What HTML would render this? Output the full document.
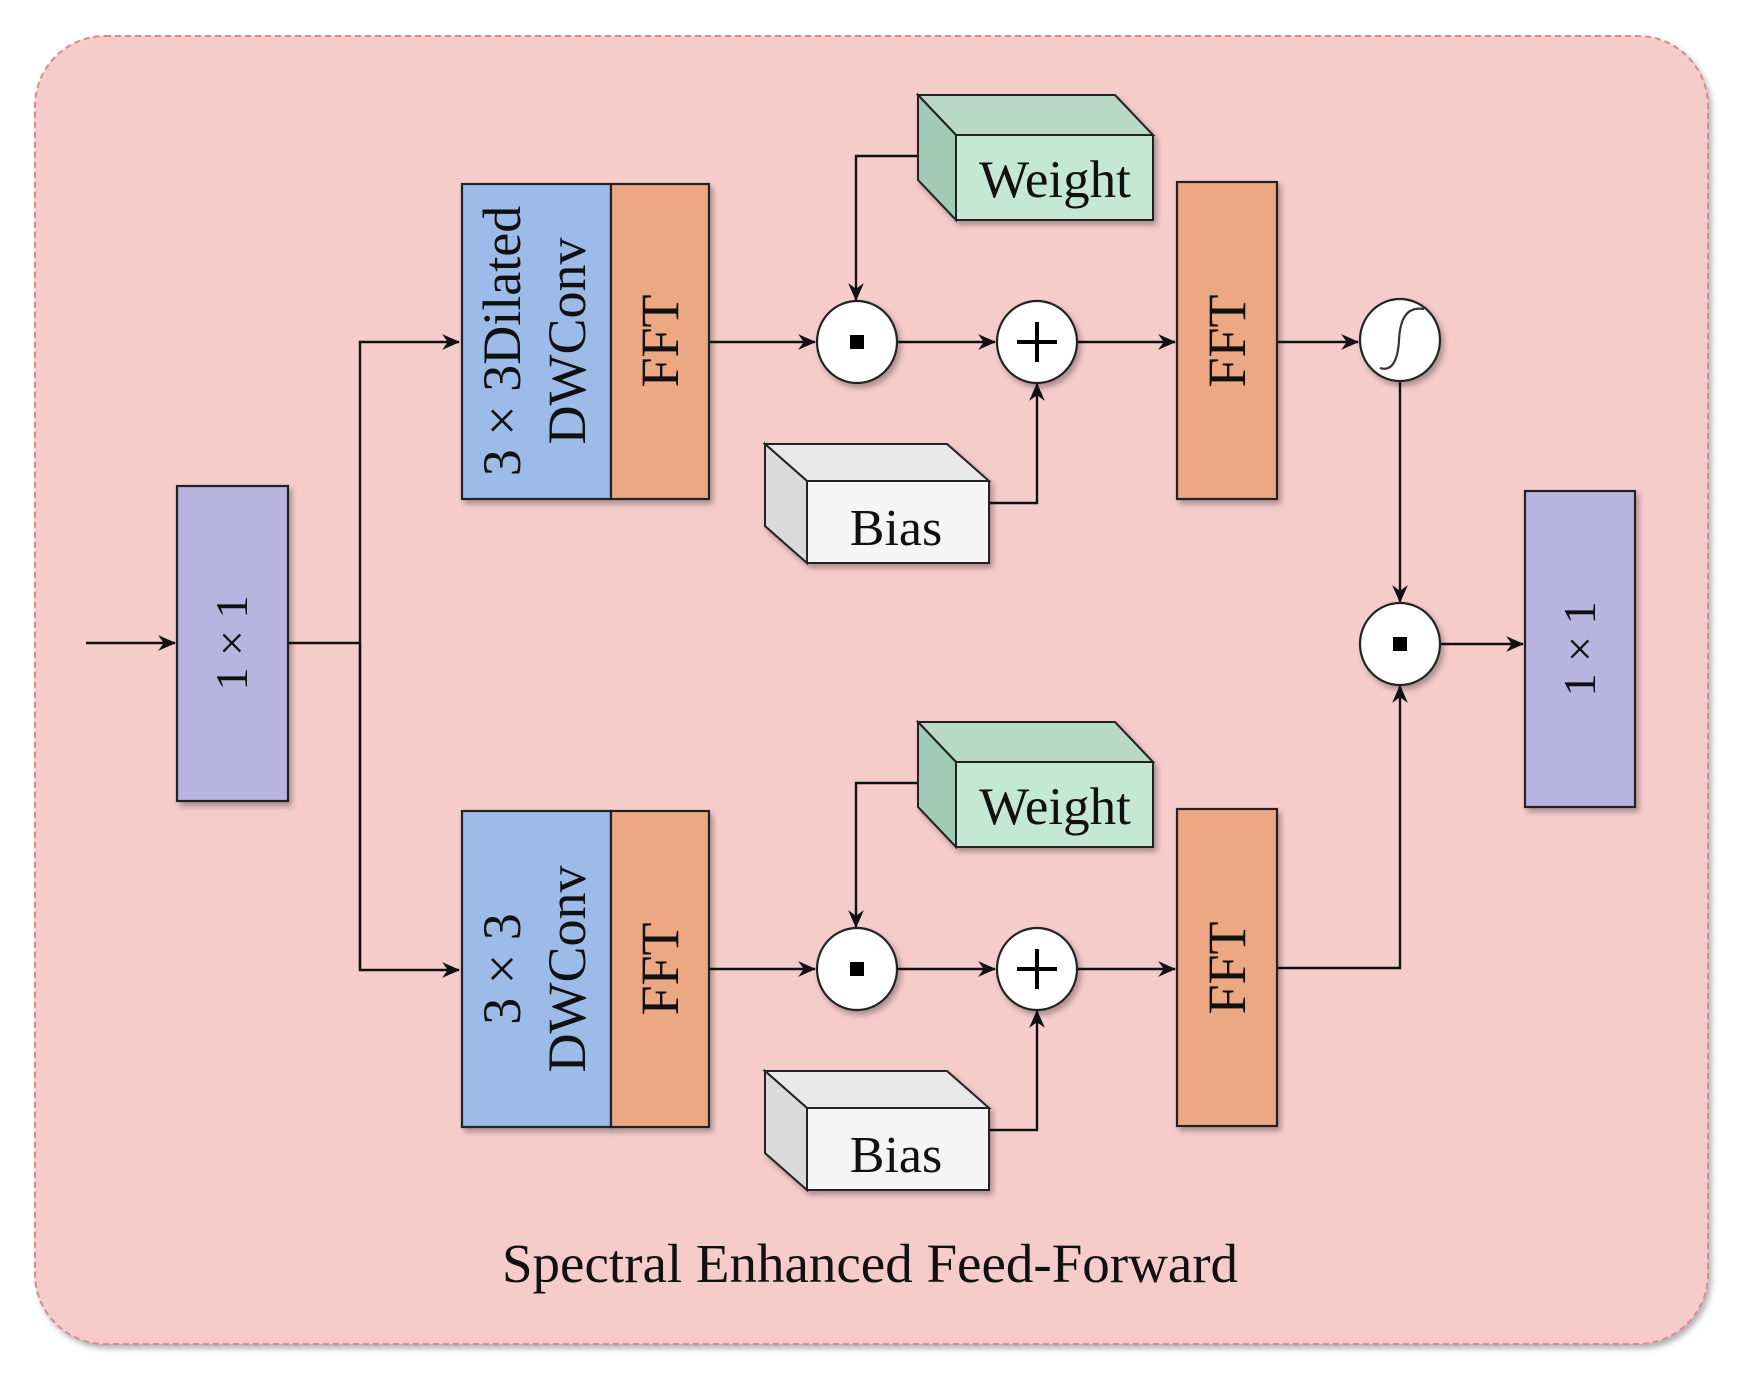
<!DOCTYPE html>
<html><head><meta charset="utf-8"><style>
html,body{margin:0;padding:0;background:#fff;}
svg{display:block;}
text{font-family:"Liberation Serif",serif;fill:#111;}
</style></head><body>
<svg width="1739" height="1379" viewBox="0 0 1739 1379" xmlns="http://www.w3.org/2000/svg">
<defs>
<filter id="sh" x="-20%" y="-20%" width="140%" height="140%"><feDropShadow dx="3" dy="4" stdDeviation="3" flood-color="#000" flood-opacity="0.3"/></filter>
<marker id="ar" viewBox="0 0 16 16" refX="15" refY="8" markerWidth="18" markerHeight="18" markerUnits="userSpaceOnUse" orient="auto"><path d="M0,1 L16,8 L0,15 L5,8 Z" fill="#111"/></marker>
</defs>
<rect x="35" y="36" width="1673" height="1308" rx="70" fill="#f6cccb" stroke="#d98a88" stroke-width="2" stroke-dasharray="6,4" filter="url(#sh)"/>

<g stroke="#111" stroke-width="2.4" fill="none">
<line x1="86" y1="643" x2="175" y2="643" marker-end="url(#ar)"/>
<polyline points="288,643 360,643"/>
<polyline points="360,970 360,342 459,342" marker-end="url(#ar)"/>
<polyline points="360,643 360,970 459,970" marker-end="url(#ar)"/>
<line x1="709" y1="342" x2="815" y2="342" marker-end="url(#ar)"/>
<line x1="897" y1="342" x2="995" y2="342" marker-end="url(#ar)"/>
<line x1="1077" y1="342" x2="1175" y2="342" marker-end="url(#ar)"/>
<line x1="1277" y1="342" x2="1358" y2="342" marker-end="url(#ar)"/>
<polyline points="918,156 856,156 856,300" marker-end="url(#ar)"/>
<polyline points="989,503 1037,503 1037,384" marker-end="url(#ar)"/>
<line x1="1400" y1="382" x2="1400" y2="602" marker-end="url(#ar)"/>
<line x1="709" y1="969" x2="815" y2="969" marker-end="url(#ar)"/>
<line x1="897" y1="969" x2="995" y2="969" marker-end="url(#ar)"/>
<line x1="1077" y1="969" x2="1175" y2="969" marker-end="url(#ar)"/>
<polyline points="918,783 856,783 856,927" marker-end="url(#ar)"/>
<polyline points="989,1130 1037,1130 1037,1011" marker-end="url(#ar)"/>
<polyline points="1277,968 1400,968 1400,686" marker-end="url(#ar)"/>
<line x1="1440" y1="644" x2="1523" y2="644" marker-end="url(#ar)"/>
</g>

<g stroke="#222" stroke-width="2.2" filter="url(#sh)">
<rect x="177" y="486" width="111" height="315" fill="#b9b3e0"/>
<rect x="1525" y="491" width="110" height="316" fill="#b9b3e0"/>
<rect x="462" y="184" width="149" height="315" fill="#9cbbe8"/>
<rect x="611" y="184" width="98" height="315" fill="#eca882"/>
<rect x="462" y="811" width="149" height="316" fill="#9cbbe8"/>
<rect x="611" y="811" width="98" height="316" fill="#eca882"/>
<rect x="1177" y="182" width="100" height="317" fill="#eca882"/>
<rect x="1177" y="809" width="100" height="317" fill="#eca882"/>
</g>

<g stroke="#222" stroke-width="2" filter="url(#sh)">
<g>
<polygon points="918,95 1115,95 1153,135 956,135" fill="#b8d9c6"/>
<polygon points="918,95 956,135 956,220 918,180" fill="#a3cab4"/>
<rect x="956" y="135" width="197" height="85" fill="#c5e8d5"/>
</g>
<g transform="translate(0,627)">
<polygon points="918,95 1115,95 1153,135 956,135" fill="#b8d9c6"/>
<polygon points="918,95 956,135 956,220 918,180" fill="#a3cab4"/>
<rect x="956" y="135" width="197" height="85" fill="#c5e8d5"/>
</g>
<g>
<polygon points="765,444 947,444 989,481 807,481" fill="#e8e8e8"/>
<polygon points="765,444 807,481 807,563 765,526" fill="#dadada"/>
<rect x="807" y="481" width="182" height="82" fill="#f5f5f5"/>
</g>
<g transform="translate(0,627)">
<polygon points="765,444 947,444 989,481 807,481" fill="#e8e8e8"/>
<polygon points="765,444 807,481 807,563 765,526" fill="#dadada"/>
<rect x="807" y="481" width="182" height="82" fill="#f5f5f5"/>
</g>
</g>

<g stroke="#222" stroke-width="2.2" fill="#fff" filter="url(#sh)">
<ellipse cx="857" cy="342" rx="40" ry="41"/>
<ellipse cx="1037" cy="342" rx="40" ry="41"/>
<ellipse cx="857" cy="969" rx="40" ry="41"/>
<ellipse cx="1037" cy="969" rx="40" ry="41"/>
<ellipse cx="1400" cy="340" rx="40" ry="41"/>
<ellipse cx="1400" cy="644" rx="40" ry="41"/>
</g>
<g fill="#000">
<rect x="850" y="335" width="14" height="14"/>
<rect x="850" y="962" width="14" height="14"/>
<rect x="1393" y="637" width="14" height="14"/>
</g>
<g stroke="#000" stroke-width="4">
<line x1="1017" y1="342" x2="1057" y2="342"/><line x1="1037" y1="322" x2="1037" y2="362"/>
<line x1="1017" y1="969" x2="1057" y2="969"/><line x1="1037" y1="949" x2="1037" y2="989"/>
</g>
<path d="M1380,368 C1392,372 1398,360 1399,340 C1400,320 1406,306 1424,309" stroke="#333" stroke-width="2.2" fill="none"/>

<text transform="translate(520,341) rotate(-90)" text-anchor="middle" font-size="54">3 × 3Dilated</text>
<text transform="translate(585,341) rotate(-90)" text-anchor="middle" font-size="54">DWConv</text>
<text transform="translate(678,341) rotate(-90)" text-anchor="middle" font-size="54">FFT</text>
<text transform="translate(520,969) rotate(-90)" text-anchor="middle" font-size="54">3 × 3</text>
<text transform="translate(585,969) rotate(-90)" text-anchor="middle" font-size="54">DWConv</text>
<text transform="translate(678,969) rotate(-90)" text-anchor="middle" font-size="54">FFT</text>
<text transform="translate(1245,341) rotate(-90)" text-anchor="middle" font-size="54">FFT</text>
<text transform="translate(1245,968) rotate(-90)" text-anchor="middle" font-size="54">FFT</text>
<text transform="translate(247,643) rotate(-90)" text-anchor="middle" font-size="46">1 × 1</text>
<text transform="translate(1595,649) rotate(-90)" text-anchor="middle" font-size="46">1 × 1</text>
<text x="1055" y="197" text-anchor="middle" font-size="53">Weight</text>
<text x="1055" y="824" text-anchor="middle" font-size="53">Weight</text>
<text x="896" y="545" text-anchor="middle" font-size="52">Bias</text>
<text x="896" y="1172" text-anchor="middle" font-size="52">Bias</text>
<text x="870" y="1282" text-anchor="middle" font-size="55">Spectral Enhanced Feed-Forward</text>
</svg>
</body></html>
